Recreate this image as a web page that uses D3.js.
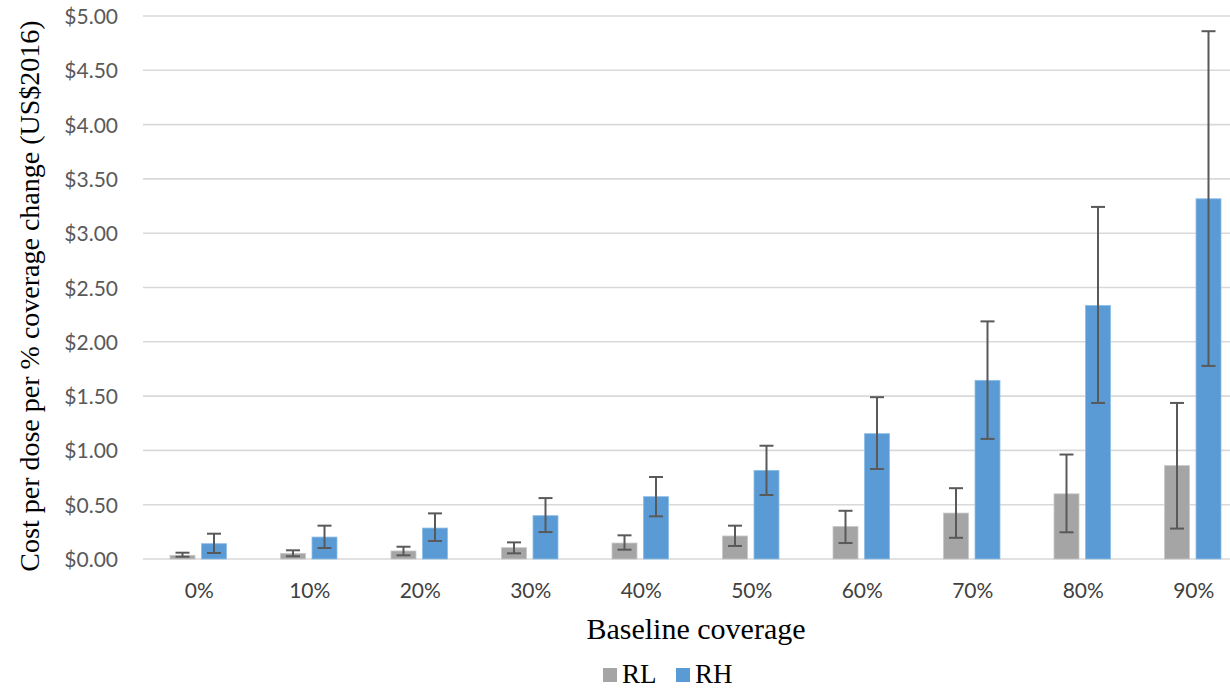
<!DOCTYPE html>
<html><head><meta charset="utf-8">
<script src="https://cdn.jsdelivr.net/npm/d3@7"></script>
<style>body{margin:0;background:#fff;overflow:hidden}</style>
</head><body>
<svg id="c" width="1230" height="689"></svg>
<script>
const categories = ["0%","10%","20%","30%","40%","50%","60%","70%","80%","90%"];
const seriesNames = ["RL","RH"];
const rlValues = [0.034,0.052,0.074,0.104,0.147,0.212,0.30,0.423,0.60,0.86];
const rlLow    = [0.021,0.025,0.034,0.052,0.086,0.12,0.147,0.195,0.246,0.28];
const rlHigh   = [0.058,0.08,0.113,0.153,0.218,0.307,0.444,0.652,0.962,1.437];
const rhValues = [0.141,0.202,0.285,0.399,0.574,0.816,1.154,1.645,2.334,3.317];
const rhLow    = [0.055,0.101,0.166,0.248,0.393,0.589,0.829,1.106,1.437,1.778];
const rhHigh   = [0.233,0.307,0.42,0.561,0.755,1.043,1.49,2.188,3.242,4.86];
const yTicks = [0,0.5,1,1.5,2,2.5,3,3.5,4,4.5,5];
const colors = ["#a5a5a5","#5b9bd5"];

(function(){
const svg = d3.select("#c");
const pL = 147, pR = 1252, pT = 16, pB = 559;
const x = d3.scaleBand().domain(categories).range([pL, pR]).paddingInner(0).paddingOuter(0);
const y = d3.scaleLinear().domain([0,5]).range([pB, pT]);
const barW = 25, gap = 6.5;

// gridlines
svg.append("g").selectAll("line").data(yTicks).join("line")
  .attr("x1", 143).attr("x2", 1230)
  .attr("y1", d => y(d)).attr("y2", d => y(d))
  .attr("stroke", "#d9d9d9").attr("stroke-width", 1.6);

// y axis labels
const yAxis = d3.axisLeft(y).tickValues(yTicks).tickSize(0).tickPadding(0)
  .tickFormat(d => "$" + d3.format(".2f")(d));
const ga = svg.append("g").attr("transform", `translate(118,0)`).call(yAxis);
ga.select(".domain").remove();
ga.selectAll("text").attr("font-family","Lato, 'Open Sans', sans-serif").attr("font-size", 21)
  .attr("fill", "#595959").attr("dy", "0.36em");

// x axis labels
const xAxis = d3.axisBottom(x).tickSize(0).tickPadding(0);
const gx = svg.append("g").attr("transform", `translate(-3,${pB + 31})`).call(xAxis);
gx.select(".domain").remove();
gx.selectAll("text").attr("font-family","Lato, 'Open Sans', sans-serif").attr("font-size", 21)
  .attr("fill", "#404040").attr("dy", "0.36em");

const series = [
  {name: "RL", vals: rlValues, lo: rlLow, hi: rlHigh, off: -(barW + gap/2)},
  {name: "RH", vals: rhValues, lo: rhLow, hi: rhHigh, off: gap/2}
];
const cx = c => x(c) + x.bandwidth()/2 - 4;

series.forEach((s, si) => {
  const g = svg.append("g");
  g.selectAll("rect").data(categories).join("rect")
    .attr("x", (c) => cx(c) + s.off)
    .attr("y", (c,i) => y(s.vals[i]))
    .attr("width", barW)
    .attr("height", (c,i) => y(0) - y(s.vals[i]))
    .attr("fill", colors[si])
    .attr("stroke", si === 0 ? "#c8c8c8" : "#8dbde6").attr("stroke-width", 0.8);
});
series.forEach((s, si) => {
  const eg = svg.append("g").attr("stroke", "#595959").attr("stroke-width", 2);
  categories.forEach((c, i) => {
    const xm = cx(c) + s.off + barW/2;
    eg.append("line").attr("x1", xm).attr("x2", xm).attr("y1", y(s.lo[i])).attr("y2", y(s.hi[i]));
    eg.append("line").attr("x1", xm-7).attr("x2", xm+7).attr("y1", y(s.lo[i])).attr("y2", y(s.lo[i]));
    eg.append("line").attr("x1", xm-7).attr("x2", xm+7).attr("y1", y(s.hi[i])).attr("y2", y(s.hi[i]));
  });
});

// axis titles
svg.append("text").attr("x", 696).attr("y", 639).attr("text-anchor","middle")
  .attr("font-family","'Liberation Serif', 'Times New Roman', serif").attr("font-size", 30)
  .attr("fill","#000").text("Baseline coverage");
svg.append("text").attr("transform","translate(39,296) rotate(-90)").attr("text-anchor","middle")
  .attr("font-family","'Liberation Serif', 'Times New Roman', serif").attr("font-size", 28)
  .attr("fill","#000").text("Cost per dose per % coverage change (US$2016)");

// legend
const lg = svg.append("g");
const legX = [603, 676];
seriesNames.forEach((n, i) => {
  lg.append("rect").attr("x", legX[i]).attr("y", 668).attr("width", 14).attr("height", 14).attr("fill", colors[i]);
  lg.append("text").attr("x", legX[i] + 19).attr("y", 683)
    .attr("font-family","'Liberation Serif', 'Times New Roman', serif").attr("font-size", 27)
    .attr("fill","#000").text(n);
});
})();
</script>
</body></html>
